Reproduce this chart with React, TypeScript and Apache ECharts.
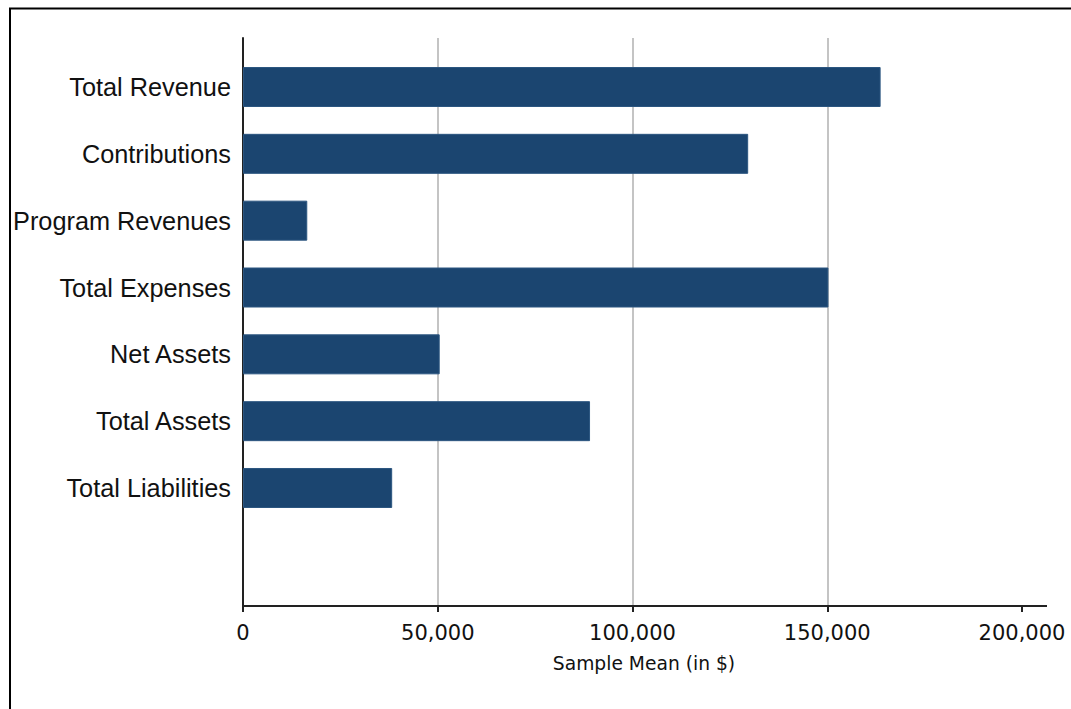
import React, { useEffect, useRef } from "react";
import * as echarts from "echarts";

const categories = [
  "Total Revenue",
  "Contributions",
  "Program Revenues",
  "Total Expenses",
  "Net Assets",
  "Total Assets",
  "Total Liabilities",
];
const sampleMeans = [163700, 129700, 16500, 150300, 50500, 89100, 38300];
const xTicks = { min: 0, max: 200000, interval: 50000 };
const xTitle = "Sample Mean (in $)";

export default function App() {
  const ref = useRef<HTMLDivElement>(null);
  useEffect(() => {
    document.body.style.margin = "0";
    if (!ref.current) return;
    const chart = echarts.init(ref.current, null, { renderer: "svg" });
    const barColor = "#1b4570";
    const axisColor = "#222222";
    chart.setOption({
      animation: false,
      backgroundColor: "#ffffff",
      grid: [
        { left: 243, right: 49, top: 53.6, bottom: 187.6 },
        { left: 243, right: 49, top: 38, bottom: 103 },
      ],
      xAxis: [
        {
          gridIndex: 0,
          type: "value",
          min: xTicks.min,
          max: xTicks.max,
          interval: xTicks.interval,
          show: false,
        },
        {
          gridIndex: 1,
          type: "value",
          min: xTicks.min,
          max: xTicks.max,
          interval: xTicks.interval,
          axisLine: { show: true, lineStyle: { color: axisColor, width: 2 } },
          axisTick: { show: true, length: 6, lineStyle: { color: axisColor, width: 2 } },
          axisLabel: {
            margin: 16,
            fontSize: 21,
            fontFamily: "DejaVu Sans",
            color: "#111111",
            formatter: (v: number) => v.toLocaleString("en-US"),
          },
          splitLine: {
            show: true,
            showMinLine: false,
            showMaxLine: false,
            lineStyle: { color: "#c4c4c4", width: 2 },
          },
        },
      ],
      yAxis: [
        {
          gridIndex: 0,
          type: "category",
          inverse: true,
          data: categories,
          axisLine: { show: false },
          axisTick: { show: false },
          axisLabel: {
            margin: 12,
            fontSize: 25.3,
            fontFamily: "Liberation Sans",
            color: "#111111",
          },
        },
        {
          gridIndex: 1,
          type: "value",
          min: 0,
          max: 1,
          axisLine: { show: true, lineStyle: { color: axisColor, width: 2 } },
          axisTick: { show: false },
          axisLabel: { show: false },
          splitLine: { show: false },
        },
      ],
      series: [
        {
          type: "bar",
          xAxisIndex: 0,
          yAxisIndex: 0,
          data: sampleMeans,
          barWidth: 40,
          itemStyle: { color: barColor, borderColor: "#2c5680", borderWidth: 1 },
          z: 3,
        },
      ],
      graphic: [
        {
          type: "line",
          shape: { x1: 1021, y1: 606, x2: 1047, y2: 606 },
          style: { stroke: axisColor, lineWidth: 2 },
          z: 10,
        },
        {
          type: "text",
          x: 644,
          y: 663,
          style: {
            text: xTitle,
            fontSize: 18.7,
            fontFamily: "DejaVu Sans",
            fill: "#111111",
            align: "center",
            verticalAlign: "middle",
          },
          z: 10,
        },
        {
          type: "rect",
          shape: { x: 10, y: 8.5, width: 1200, height: 900 },
          style: { fill: "none", stroke: "#000000", lineWidth: 2 },
          z: 10,
        },
      ],
    });
    return () => chart.dispose();
  }, []);
  return <div ref={ref} style={{ width: 1071, height: 709 }} />;
}
